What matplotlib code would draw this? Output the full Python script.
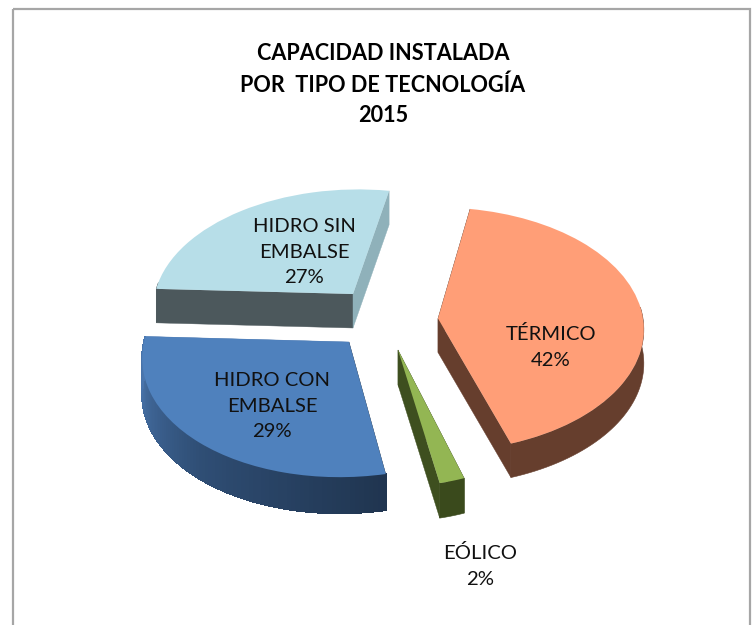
import numpy as np
import matplotlib
matplotlib.use("Agg")
import matplotlib.pyplot as plt
from matplotlib.transforms import Transform
from matplotlib.patches import Rectangle
from matplotlib.colors import LinearSegmentedColormap

title_lines = ["CAPACIDAD INSTALADA", "POR  TIPO DE TECNOLOGÍA", "2015"]
categories = ["TÉRMICO", "EÓLICO", "HIDRO CON\nEMBALSE", "HIDRO SIN\nEMBALSE"]
values = [42, 2, 29, 27]

top_colors = ["#FF9E77", "#93B653", "#4F81BD", "#B7DEE8"]
# rim colours run clockwise on screen, i.e. from the slice's first edge to its last
rim_colors = [["#663E2D", "#663E2D"], ["#3A4A1C", "#3A4A1C"],
              ["#203550", "#2F4E75", "#4B78B0"], ["#4C585C", "#4C585C"]]
first_wall_colors = ["#663E2D", "#3E4F1F", "#203550", "#4C585C"]
last_wall_colors = ["#663E2D", "#3E4F1F", "#4B78B0", "#8FB1BA"]
# slice geometry in pixels: apex x, apex y, rx, ry, perspective, shear, depth
geometry = [(438, 318.5, 205, 121, 0.09, 0.0, 34),
            (398, 350, 186, 124, 0.09, 0.0, 35),
            (349, 342, 205, 123, 0.09, -0.07, 36),
            (353, 294, 198, 114, 0.09, -0.05, 34)]
label_pos = [(551, 347), (480, 566), (272, 406), (304, 252)]


class SliceProjection(Transform):
    input_dims = output_dims = 2
    is_separable = False
    has_inverse = False

    def __init__(self, ax_, ay_, rx, ry, k, shear):
        super().__init__()
        self.p = (ax_, ay_, rx, ry, k, shear)

    def transform_non_affine(self, xy):
        ax_, ay_, rx, ry, k, shear = self.p
        xy = np.asarray(xy, float)
        u, v = xy[:, 0], xy[:, 1]
        s = 1 + k * v
        dy = -ry * v / s
        dx = rx * u / s + shear * dy
        return np.column_stack([ax_ + dx, ay_ + dy])


fig = plt.figure(figsize=(7.54, 6.25), dpi=100, facecolor="white")
ax = fig.add_axes([0, 0, 1, 1])
wedges, _ = ax.pie(values, startangle=80.2, counterclock=False, colors=top_colors)
ax.set_aspect("auto")
ax.set_xlim(0, 754)
ax.set_ylim(625, 0)
ax.axis("off")

ax.add_patch(Rectangle((13, 9), 737, 640, fill=False, edgecolor="#A6A6A6", lw=1.6, zorder=0))

for w, g, rc, fc, lc in zip(wedges, geometry, rim_colors, first_wall_colors, last_wall_colors):
    proj = SliceProjection(*g[:6])
    down = np.array([0, g[6]])
    w.set_transform(proj + ax.transData)
    w.set_zorder(3)
    # clockwise on screen: from theta2 down to theta1
    th = np.radians(np.linspace(w.theta2, w.theta1, 90))
    v = np.sin(th)
    rim = proj.transform_non_affine(np.column_stack([np.cos(th), v]))
    apex = np.array([g[0], g[1]], float)
    cmap = LinearSegmentedColormap.from_list("rim", rc)
    keep = np.where(v < 0.12)[0]
    if len(keep) > 1:
        if rc[0] == rc[-1]:
            r = rim[keep]
            poly = np.vstack([r, (r + down)[::-1]])
            ax.fill(poly[:, 0], poly[:, 1], facecolor=rc[0], edgecolor=rc[0], lw=0.4, zorder=2)
        else:
            for i in keep[:-1]:
                quad = np.array([rim[i], rim[i + 1], rim[i + 1] + down, rim[i] + down])
                col = cmap(i / (len(rim) - 2))
                ax.fill(quad[:, 0], quad[:, 1], facecolor=col, edgecolor=col, lw=0.8,
                        antialiased=False, zorder=2)
    for end, col in ((rim[0], fc), (rim[-1], lc)):
        quad = np.array([apex, end, end + down, apex + down])
        ax.fill(quad[:, 0], quad[:, 1], facecolor=col, edgecolor=col, lw=0.3, zorder=1.5)

for line, y in zip(title_lines, [54, 85, 115]):
    ax.text(383, y, line, ha="center", va="center", family="Lato", weight="bold",
            fontsize=15.6, color="black", zorder=5)

for name, val, (x, y) in zip(categories, values, label_pos):
    ax.text(x, y, f"{name}\n{val}%", ha="center", va="center", family="Lato",
            fontsize=14.6, color="#111111", linespacing=1.62, zorder=5)

fig.savefig("out.png", dpi=100, facecolor="white")
